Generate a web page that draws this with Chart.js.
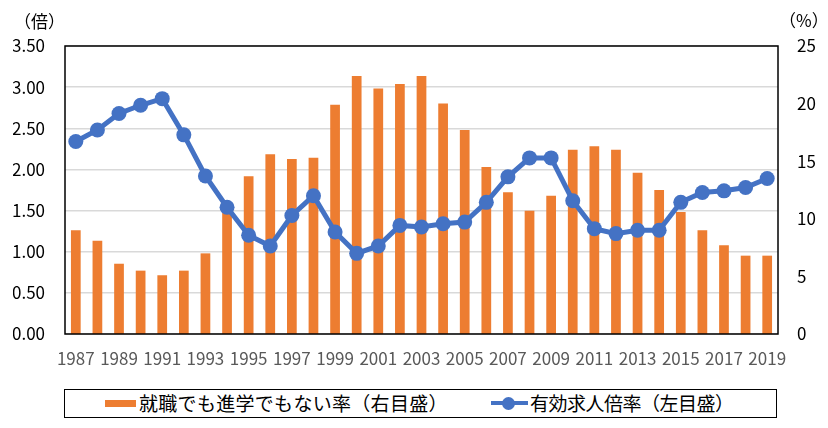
<!DOCTYPE html>
<html lang="ja">
<head>
<meta charset="utf-8">
<title>有効求人倍率と就職でも進学でもない率</title>
<script src="https://cdn.jsdelivr.net/npm/chart.js@4/dist/chart.umd.min.js"></script>
<style>
  html, body { margin: 0; padding: 0; background: #fff; }
  body { width: 828px; height: 428px; position: relative; overflow: hidden;
         font-family: "Noto Sans CJK JP", "Noto Sans", sans-serif; color: #000; }
  #wrap { position: absolute; left: 0; top: 0; width: 828px; height: 380px; }
  .unit { position: absolute; font-size: 17px; line-height: 1; }
  #legend { position: absolute; left: 64px; top: 389px; width: 711px; height: 27px;
            border: 1.5px solid #000; box-sizing: content-box; }
  #legend .sw-bar { position: absolute; left: 40px; top: 10px; width: 31px; height: 7px; background: #ED7D31; }
  #legend .sw-line { position: absolute; left: 426px; top: 11px; width: 37px; height: 4px; background: #4472C4; }
  #legend .sw-dot { position: absolute; left: 437px; top: 7px; width: 13px; height: 13px; border-radius: 50%; background: #4472C4; }
  #legend .txt { position: absolute; top: 1px; font-size: 19px; line-height: 23px; white-space: nowrap; color: #000; }
</style>
</head>
<body>
<div id="wrap"><canvas id="chart-main"></canvas></div>
<div class="unit" style="left:14px; top:12px;">（倍）</div>
<div class="unit" style="left:779px; top:11px;">（%）</div>
<div id="legend">
  <span class="sw-bar"></span><span class="txt" style="left:74px; letter-spacing:0.3px;">就職でも進学でもない率（右目盛）</span>
  <span class="sw-line"></span><span class="sw-dot"></span><span class="txt" style="left:465px; letter-spacing:-0.5px;">有効求人倍率（左目盛）</span>
</div>
<script>
// 年（横軸）
const years = ['1987','1988','1989','1990','1991','1992','1993','1994','1995','1996','1997',
               '1998','1999','2000','2001','2002','2003','2004','2005','2006','2007','2008',
               '2009','2010','2011','2012','2013','2014','2015','2016','2017','2018','2019'];

// 就職でも進学でもない率（%、右目盛）
const mushokuRate = [9.0, 8.1, 6.1, 5.5, 5.1, 5.5, 7.0, 10.8, 13.7, 15.6, 15.2,
                     15.3, 19.9, 22.4, 21.3, 21.7, 22.4, 20.0, 17.7, 14.5, 12.3, 10.7,
                     12.0, 16.0, 16.3, 16.0, 14.0, 12.5, 10.6, 9.0, 7.7, 6.8, 6.8];

// 有効求人倍率（倍、左目盛）
const kyujinBairitsu = [2.34, 2.48, 2.68, 2.78, 2.86, 2.42, 1.92, 1.54, 1.20, 1.07, 1.44,
                        1.68, 1.24, 0.98, 1.07, 1.32, 1.30, 1.34, 1.36, 1.60, 1.91, 2.14,
                        2.14, 1.62, 1.28, 1.22, 1.26, 1.26, 1.60, 1.72, 1.74, 1.78, 1.89];

// 目盛
const leftTicks = [0, 0.5, 1.0, 1.5, 2.0, 2.5, 3.0, 3.5];
const rightTicks = [0, 5, 10, 15, 20, 25];

const ORANGE = '#ED7D31';
const BLUE = '#4472C4';
const tickFont = { family: '"Noto Sans CJK JP", "Noto Sans", sans-serif', size: 17 };

// プロット枠（黒）
const framePlugin = {
  id: 'frame',
  afterDraw(chart) {
    const { ctx, chartArea: a } = chart;
    ctx.save();
    ctx.strokeStyle = '#000';
    ctx.lineWidth = 1.5;
    ctx.strokeRect(a.left, a.top, a.right - a.left, a.bottom - a.top);
    ctx.restore();
  }
};

const chart = new Chart(document.getElementById('chart-main'), {
  type: 'bar',
  data: {
    labels: years,
    datasets: [
      {
        type: 'line',
        label: '有効求人倍率（左目盛）',
        data: kyujinBairitsu,
        yAxisID: 'y',
        borderColor: BLUE,
        backgroundColor: BLUE,
        borderWidth: 5,
        pointRadius: 7.5,
        pointBorderWidth: 0,
        pointBackgroundColor: BLUE,
        tension: 0,
        order: 1
      },
      {
        type: 'bar',
        label: '就職でも進学でもない率（右目盛）',
        data: mushokuRate,
        yAxisID: 'y1',
        backgroundColor: ORANGE,
        barPercentage: 0.45,
        categoryPercentage: 1.0,
        order: 2
      }
    ]
  },
  options: {
    responsive: true,
    maintainAspectRatio: false,
    animation: false,
    layout: { padding: { top: 46, left: 13, right: 12, bottom: 0 } },
    plugins: {
      legend: { display: false },
      tooltip: { enabled: false }
    },
    scales: {
      x: {
        offset: true,
        grid: { display: false, drawTicks: false },
        border: { display: false },
        afterFit: s => { s.height = 46; s.paddingLeft = 0; s.paddingRight = 0; },
        ticks: {
          autoSkip: false,
          maxRotation: 0,
          minRotation: 0,
          padding: 14,
          color: '#595959',
          font: tickFont,
          callback: (v, i) => (i % 2 === 0 ? years[i] : '')
        }
      },
      y: {
        position: 'left',
        min: 0,
        max: 3.5,
        afterBuildTicks: axis => { axis.ticks = leftTicks.map(v => ({ value: v })); },
        afterFit: s => { s.width = 52; },
        grid: { color: '#D9D9D9', lineWidth: 1.5, drawTicks: false },
        border: { display: false },
        ticks: {
          padding: 20,
          color: '#000',
          font: tickFont,
          callback: v => Number(v).toFixed(2)
        }
      },
      y1: {
        position: 'right',
        min: 0,
        max: 25,
        afterBuildTicks: axis => { axis.ticks = rightTicks.map(v => ({ value: v })); },
        afterFit: s => { s.width = 38; },
        grid: { display: false, drawTicks: false },
        border: { display: false },
        ticks: {
          padding: 19,
          color: '#000',
          font: tickFont,
          callback: v => String(v)
        }
      }
    }
  },
  plugins: [framePlugin]
});
</script>
</body>
</html>
